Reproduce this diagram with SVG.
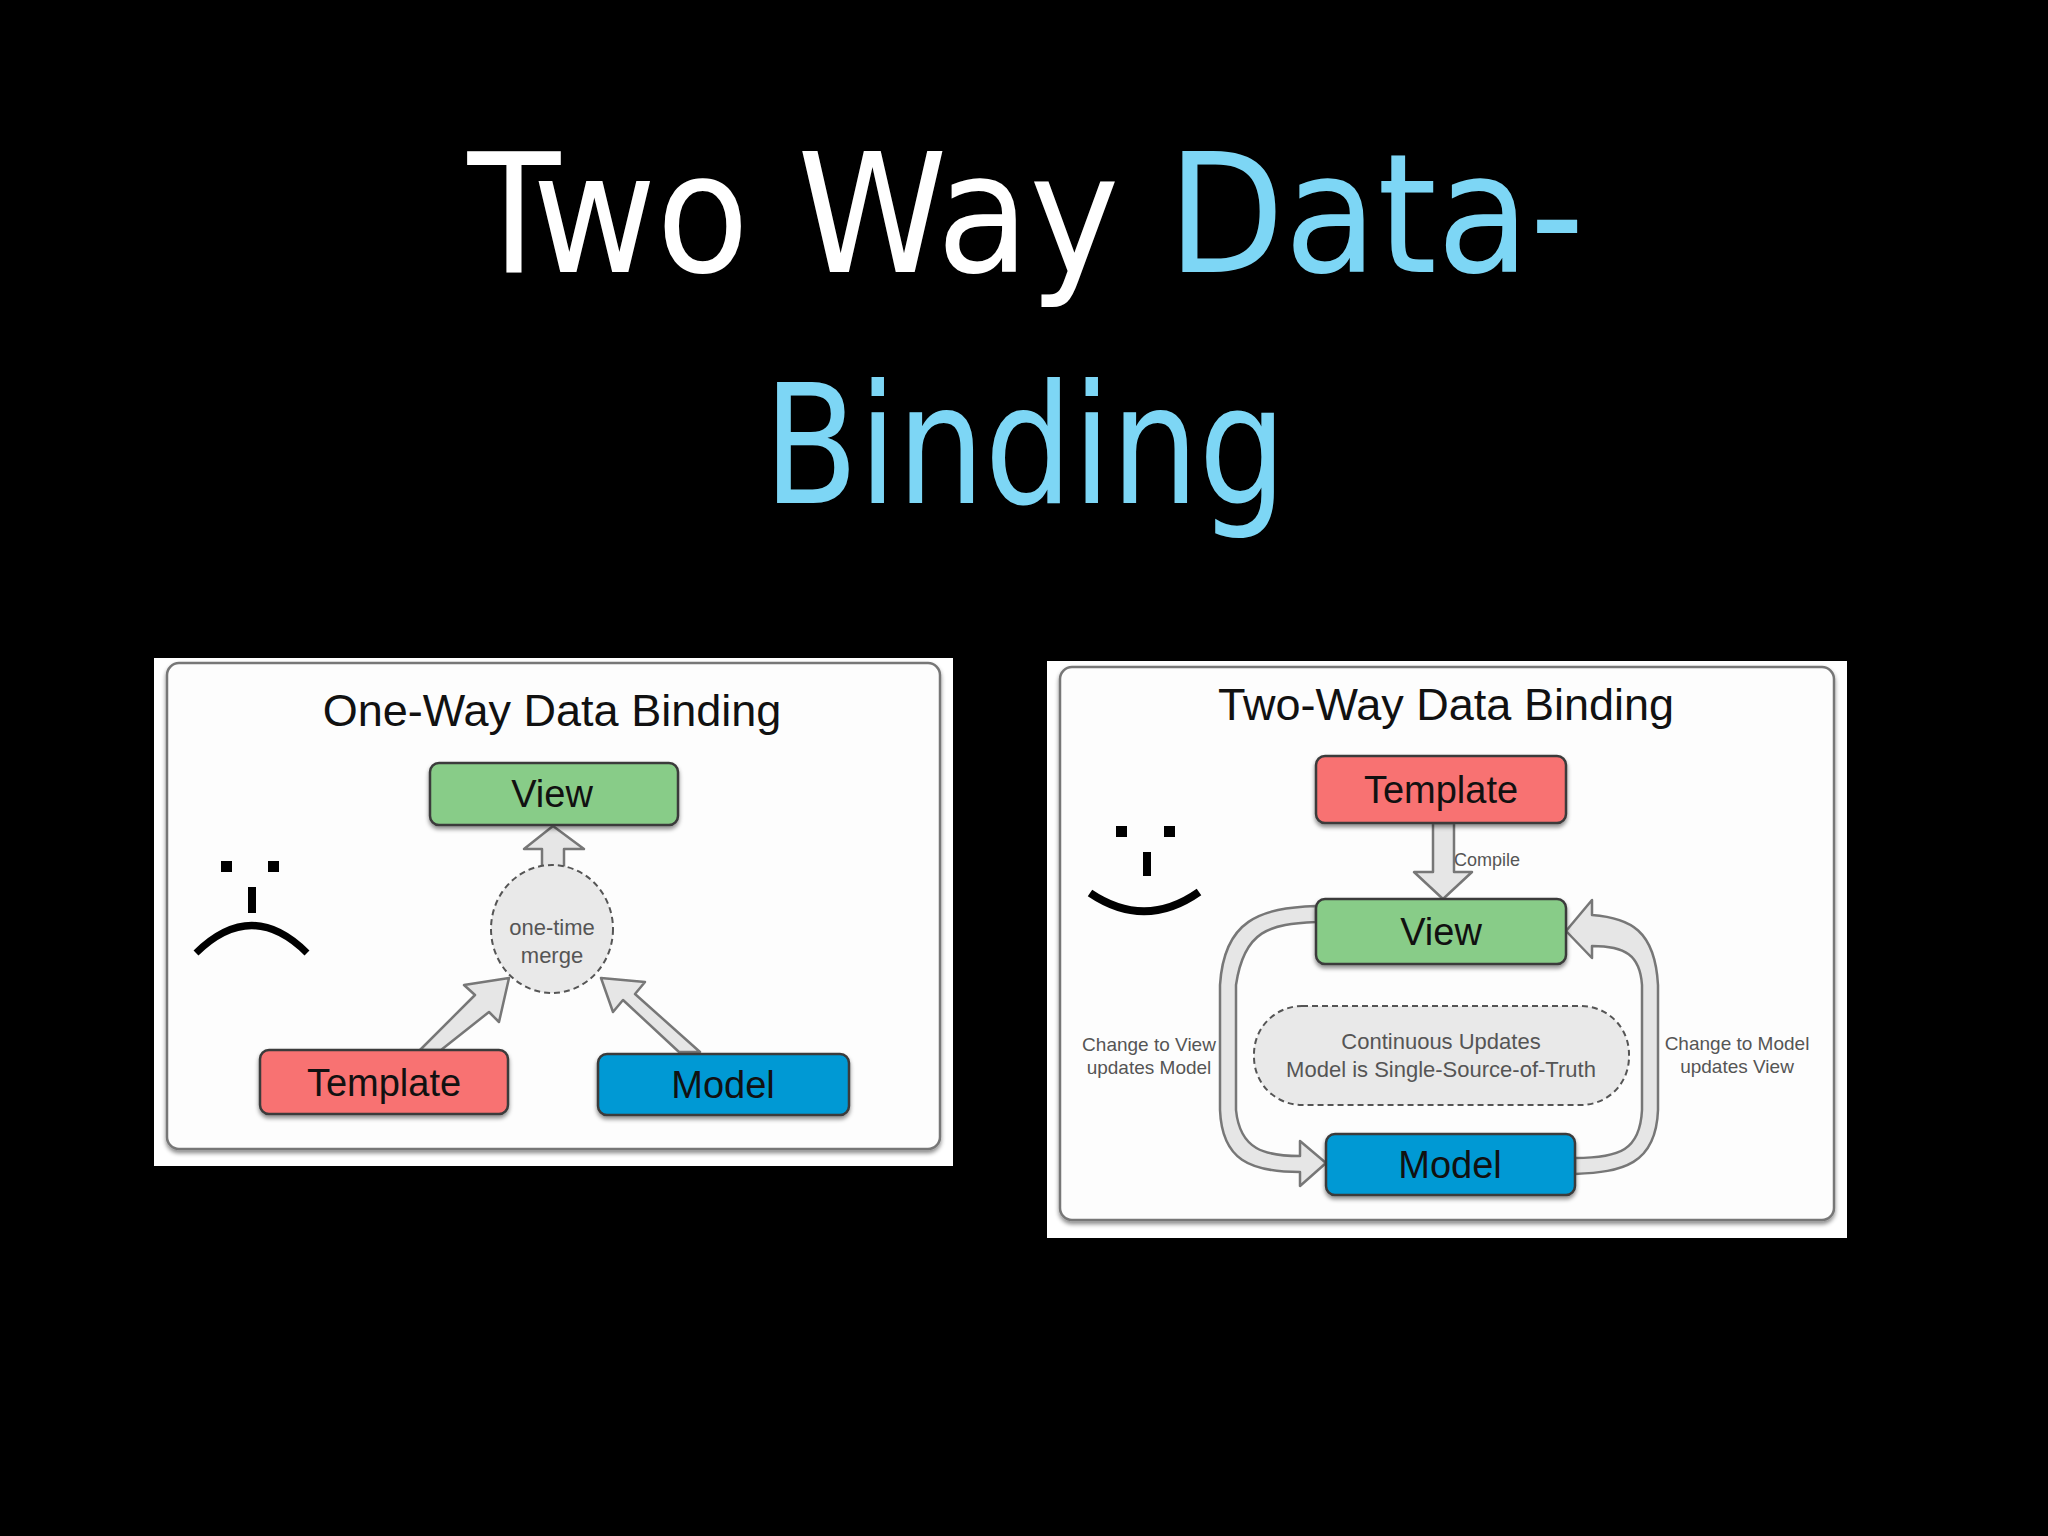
<svg xmlns="http://www.w3.org/2000/svg" width="2048" height="1536" viewBox="0 0 2048 1536">
<defs>
<style>
.t{font-family:"Liberation Sans",Arial,sans-serif;fill:#111}
.nb{stroke:#3a3a3a;stroke-width:2.5}
.band{fill:#e6e6e6;stroke:#777;stroke-width:2.5;stroke-linejoin:round}
.gray{font-family:"Liberation Sans",Arial,sans-serif;fill:#555}
</style>
<filter id="sh" x="-10%" y="-10%" width="120%" height="130%"><feDropShadow dx="0" dy="3" stdDeviation="2" flood-color="#000" flood-opacity="0.45"/></filter>
</defs>
<rect width="2048" height="1536" fill="#000"/>
<g id="title" font-family="'DejaVu Sans Condensed','DejaVu Sans',sans-serif" font-size="165" text-anchor="middle">
<text x="1026" y="272" textLength="1117" lengthAdjust="spacingAndGlyphs"><tspan fill="#fff">Two Way </tspan><tspan fill="#7dd6f5">Data-</tspan></text>
<text x="1025" y="503" fill="#7dd6f5" textLength="523" lengthAdjust="spacingAndGlyphs">Binding</text>
</g>

<g id="left-panel">
<rect x="154" y="658" width="799" height="508" fill="#fff"/>
<rect x="167" y="663" width="773" height="486" rx="12" fill="#fdfdfd" stroke="#777" stroke-width="2.5" filter="url(#sh)"/>
<text class="t" x="552" y="726" font-size="45" text-anchor="middle">One-Way Data Binding</text>
<g id="frown" fill="#000"><rect x="221" y="861" width="11" height="11"/><rect x="268" y="861" width="11" height="11"/><rect x="248" y="887" width="8" height="26"/>
<path d="M196,953 Q252,898 307,953" fill="none" stroke="#000" stroke-width="7"/></g>
</g>
<g id="connectors-left">
<polygon class="band" points="542,883 542,849 524,849 553,826 584,849 564,849 564,883"/>
<polygon class="band" points="420,1050 475,995 464,985 509,978 499,1022 489,1012 441,1050"/>
<polygon class="band" points="679,1052 623,1000 613,1012 601,978 645,982 635,994 700,1052"/>
</g>
<g id="merge"><ellipse cx="552" cy="929" rx="61" ry="64" fill="#e9e9e9" stroke="#555" stroke-width="2" stroke-dasharray="6,4"/>
<text class="gray" x="552" y="935" font-size="22" text-anchor="middle" fill="#333">one-time</text>
<text class="gray" x="552" y="963" font-size="22" text-anchor="middle" fill="#333">merge</text></g>
<g id="view-l"><rect class="nb" x="430" y="763" width="248" height="62" rx="9" fill="#88cc88" filter="url(#sh)"/><text class="t" x="552" y="807" font-size="38" text-anchor="middle">View</text></g>
<g id="template-l"><rect class="nb" x="260" y="1050" width="248" height="64" rx="9" fill="#f87272" filter="url(#sh)"/><text class="t" x="384" y="1096" font-size="38" text-anchor="middle">Template</text></g>
<g id="model-l"><rect class="nb" x="598" y="1054" width="251" height="61" rx="9" fill="#0099d4" filter="url(#sh)"/><text class="t" x="723" y="1098" font-size="38" text-anchor="middle">Model</text></g>

<g id="right-panel">
<rect x="1047" y="661" width="800" height="577" fill="#fff"/>
<rect x="1060" y="667" width="774" height="553" rx="12" fill="#fdfdfd" stroke="#777" stroke-width="2.5" filter="url(#sh)"/>
<text class="t" x="1446" y="720" font-size="45" text-anchor="middle">Two-Way Data Binding</text>
<g id="smile" fill="#000"><rect x="1116" y="826" width="11" height="11"/><rect x="1164" y="826" width="11" height="11"/><rect x="1143" y="852" width="8" height="24"/>
<path d="M1090,893 Q1145,930 1199,892" fill="none" stroke="#000" stroke-width="8"/></g>
</g>
<g id="connectors-right">
<polygon class="band" points="1433,823 1454,823 1454,872 1472,872 1443,899 1414,872 1433,872"/>
<path d="M1316,922 C1270,924 1244,930 1236,985 L1236,1110 C1240,1150 1265,1156 1300,1156 L1300,1141 L1326,1163 L1300,1186 L1300,1172 C1250,1172 1222,1160 1220,1110 L1220,985 C1224,920 1260,908 1316,906 Z" class="band"/>
<path d="M1575,1174 C1622,1172 1656,1165 1658,1110 L1658,985 C1655,930 1630,918 1592,915 L1592,900 L1566,931 L1592,958 L1592,946 C1625,946 1640,955 1642,985 L1642,1110 C1640,1150 1620,1158 1575,1158 Z" class="band"/>
<text class="gray" x="1454" y="866" font-size="18">Compile</text>
<text class="gray" x="1149" y="1051" font-size="19" text-anchor="middle">Change to View</text>
<text class="gray" x="1149" y="1074" font-size="19" text-anchor="middle">updates Model</text>
<text class="gray" x="1737" y="1050" font-size="19" text-anchor="middle">Change to Model</text>
<text class="gray" x="1737" y="1073" font-size="19" text-anchor="middle">updates View</text>
</g>
<g id="continuous"><rect x="1254" y="1006" width="375" height="99" rx="48" fill="#e9e9e9" stroke="#555" stroke-width="2" stroke-dasharray="6,4"/>
<text class="gray" x="1441" y="1049" font-size="22" text-anchor="middle" fill="#333">Continuous Updates</text>
<text class="gray" x="1441" y="1077" font-size="22" text-anchor="middle" fill="#333">Model is Single-Source-of-Truth</text></g>
<g id="template-r"><rect class="nb" x="1316" y="756" width="250" height="67" rx="9" fill="#f87272" filter="url(#sh)"/><text class="t" x="1441" y="803" font-size="38" text-anchor="middle">Template</text></g>
<g id="view-r"><rect class="nb" x="1316" y="899" width="250" height="65" rx="9" fill="#88cc88" filter="url(#sh)"/><text class="t" x="1441" y="945" font-size="38" text-anchor="middle">View</text></g>
<g id="model-r"><rect class="nb" x="1326" y="1134" width="249" height="61" rx="9" fill="#0099d4" filter="url(#sh)"/><text class="t" x="1450" y="1178" font-size="38" text-anchor="middle">Model</text></g>
</svg>
